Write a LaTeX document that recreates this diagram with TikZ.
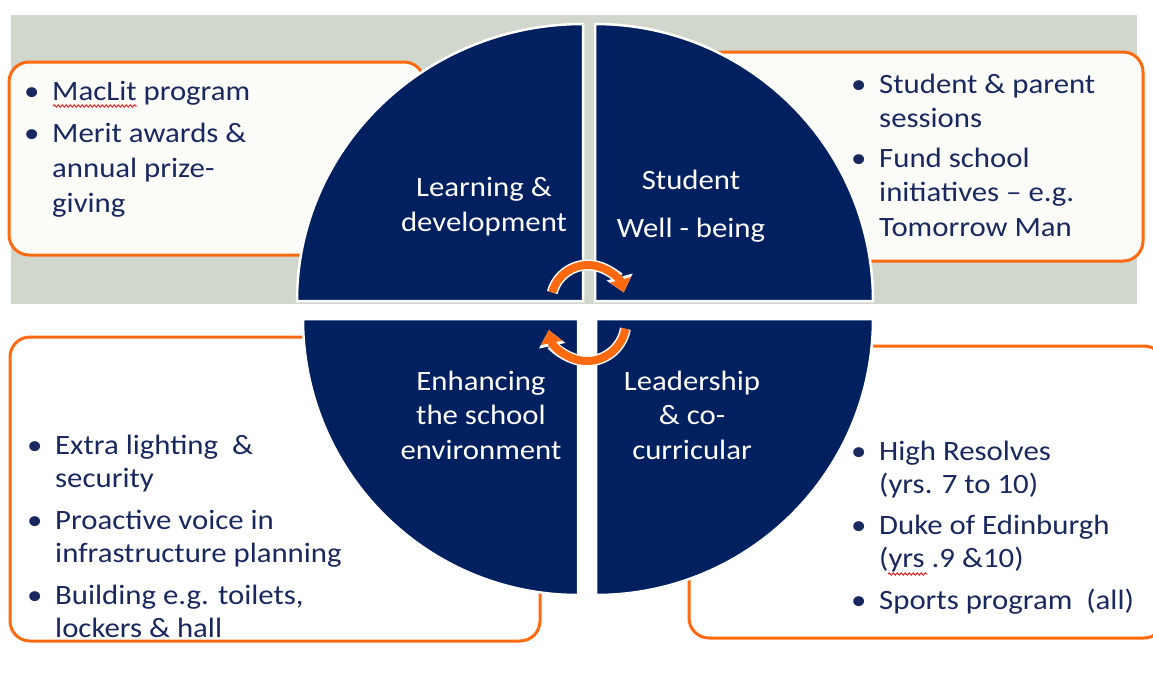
\documentclass[tikz,border=0pt]{standalone}
\usepackage{fontspec}
\setmainfont{Carlito}[FakeStretch = 1.1]
\usetikzlibrary{arrows.meta,decorations.pathmorphing}

\definecolor{navy}{RGB}{0,32,96}
\definecolor{accent}{RGB}{255,105,15}
\definecolor{backgray}{RGB}{210,215,205}
\definecolor{paper}{RGB}{251,251,248}
\definecolor{inktext}{RGB}{25,40,95}

\newcommand{\bitem}{\makebox[28pt][l]{\textbullet}}
\newcommand{\cont}{\hspace*{28pt}}

\begin{document}
\begin{tikzpicture}[
			x = 1pt, y = -1pt,
			quad/.style = {fill = navy, draw = white, line width = 2.5pt},
			infobox/.style = {draw = accent, line width = 3pt, rounded corners = 20pt},
			listtext/.style = {text = inktext, align = left, inner sep = 0pt, anchor = base west},
			quadtext/.style = {text = white, align = center, inner sep = 0pt, anchor = base,
				font = \fontsize{28}{34.5}\selectfont},
			cyclearrow/.style = {accent, line width = 8pt, -{Triangle[width = 21pt, length = 13pt]}},
			cycleedge/.style = {white, line width = 11pt, -{Triangle[width = 26pt, length = 16pt]}},
			squiggle/.style = {red, line width = 0.8pt, decorate,
				decoration = {snake, amplitude = 1.2pt, segment length = 4pt}}
			]

			\useasboundingbox (0,0) rectangle (1153,673);

			\fill[backgray] (11,15) rectangle (1137,304);

			% boxes behind the circle
			\draw[infobox, fill = paper] (9,62) rectangle (424,255);
			\draw[infobox, fill = paper] (700,52) rectangle (1143,261);
			\draw[infobox, fill = white] (10,337) rectangle (540,641);
			\draw[infobox, fill = white] (689,346) rectangle (1164,638);

			% four quarters
			\filldraw[quad] (583,301) -- (297,301) arc[start angle = 180, end angle = 270, x radius = 286, y radius = 277] -- cycle;
			\filldraw[quad] (595,301) -- (873,301) arc[start angle = 0, end angle = -90, x radius = 278, y radius = 277] -- cycle;
			\filldraw[quad] (578,319) -- (303,319) arc[start angle = 180, end angle = 90, x radius = 275, y radius = 276] -- cycle;
			\filldraw[quad] (596,319) -- (873,319) arc[start angle = 0, end angle = 90, x radius = 277, y radius = 276] -- cycle;

			% base = last line
			\node[quadtext] (learn) at (484,231) {Learning \&\\development};
			\node[quadtext] (well) at (691,237) {Student\\[13pt]Well - being};
			\node[quadtext] (enhance) at (481,459) {Enhancing\\the school\\environment};
			\node[quadtext] (lead) at (692,459) {Leadership\\\& co-\\curricular};

			% lists
			\node[listtext, font = \fontsize{28}{35}\selectfont] (learnlist) at (24,212)
				{\bitem MacLit program\\[7pt]
				 \bitem Merit awards \&\\
				 \cont annual prize-\\
				 \cont giving};
			\node[listtext, font = \fontsize{28}{34.5}\selectfont] (welllist) at (851,236)
				{\bitem Student \& parent\\
				 \cont sessions\\[5pt]
				 \bitem Fund school\\
				 \cont initiatives -- e.g.\\
				 \cont Tomorrow Man};
			\node[listtext, font = \fontsize{28}{33.5}\selectfont] (enhancelist) at (27,637.5)
				{\bitem Extra lighting \ \&\\
				 \cont security\\[8pt]
				 \bitem Proactive voice in\\
				 \cont infrastructure planning\\[8pt]
				 \bitem Building e.g. toilets,\\
				 \cont lockers \& hall};
			\node[listtext, font = \fontsize{28}{33}\selectfont] (leadlist) at (851,609)
				{\bitem High Resolves\\
				 \cont (yrs. 7 to 10)\\[8.5pt]
				 \bitem Duke of Edinburgh\\
				 \cont (yrs .9 \&10)\\[8.5pt]
				 \bitem Sports program \ (all)};

			\draw[squiggle] (53,106) -- (137,106);
			\draw[squiggle] (888,574) -- (927,574);

			% cycle arrows in the middle
			\coordinate (hub top) at (588,302);
			\coordinate (hub bottom) at (587,322);
			\draw[cycleedge] (hub top) ++(195:37) arc[start angle = 195, end angle = 345, radius = 37];
			\draw[cyclearrow] (hub top) ++(195:37) arc[start angle = 195, end angle = 345, radius = 37];
			\draw[cycleedge] (hub bottom) ++(10:39) arc[start angle = 10, end angle = 168, radius = 39];
			\draw[cyclearrow] (hub bottom) ++(10:39) arc[start angle = 10, end angle = 168, radius = 39];

		\end{tikzpicture}
\end{document}
